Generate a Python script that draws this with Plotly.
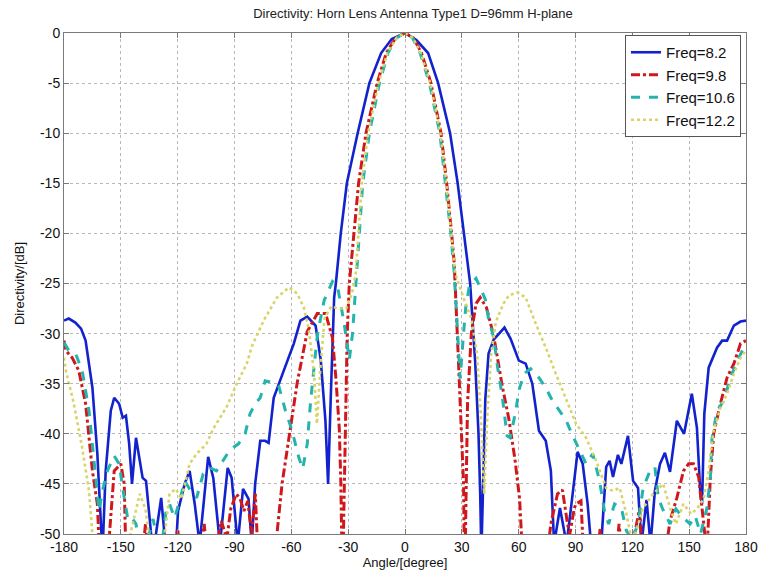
import plotly.graph_objects as go

# Measured H-plane directivity patterns of the horn lens antenna (D=96mm)
freq_labels = ["Freq=8.2", "Freq=9.8", "Freq=10.6", "Freq=12.2"]

angle_82 = [-180, -177.5, -174, -171, -168.6, -165, -162.4, -159.7, -158, -155.3, -153.5, -150.9,
            -149, -147.3, -145.6, -144.1, -142, -140.3, -138.5, -136.7, -133, -128.7, -126, -122,
            -119.8, -116.3, -113.7, -111, -108.4, -103.9, -101.2, -97.7, -93.6, -91.5, -88.3, -85.5,
            -82.6, -80.9, -79.1, -76.4, -73.8, -72, -69.3, -64, -58.7, -55.2, -51.6, -47.2, -44.5,
            -42, -40.6, -39.2, -37.4, -36.5, -33.9, -30.7, -25, -18.8, -12.6, -7, 0, 6, 12.2, 17.5,
            23.8, 27.8, 31.2, 33.5, 34.4, 37.1, 38.8, 39.7, 40.3, 42.4, 44.1, 46.8, 49.5, 52.5, 55.7,
            60.1, 63.7, 67.2, 70.7, 74.3, 77, 78.7, 81.8, 85.3, 88.5, 91.1, 93.8, 96.4, 98.2, 100.5,
            103.6, 106.2, 108, 109.8, 112.4, 114.2, 117.7, 120.4, 123, 124.8, 127.5, 129.6, 131.9,
            134.6, 137.2, 139.9, 143.5, 147.3, 151.4, 154.1, 155.9, 156.8, 158, 160.3, 164.7, 167.4,
            170, 173.6, 177.1, 180]
db_82 = [-28.7, -28.5, -28.9, -29.5, -30.7, -35.4, -42, -52, -43.7, -37.7, -36.4, -37, -38.4, -38.2,
         -41, -45, -40.4, -42.4, -44.4, -44.7, -52, -46.4, -52, -55, -47.7, -45, -43.7, -47, -51,
         -42.3, -44.4, -51, -43.4, -44.4, -51, -45.5, -46.5, -51, -45, -40.7, -40.7, -40.9, -36.4,
         -33.7, -31, -28.7, -28.3, -29.2, -32.6, -38.7, -45, -36.4, -26.4, -25, -20, -15, -10, -5,
         -2, -0.6, 0, -0.7, -2, -5, -10, -15, -20, -23.7, -25, -33, -40, -46, -52, -36.5, -32,
         -30.6, -30, -29.4, -30.5, -32.7, -33, -35, -39.7, -40.7, -43.7, -51, -47.4, -51, -46,
         -41.8, -43, -47, -51, -55, -51, -43.3, -42.7, -44.3, -42.1, -43, -40.2, -44.7, -45.4,
         -51, -46.6, -51, -45.7, -43, -41.9, -43.8, -38.7, -40, -36, -39.4, -46, -47, -38, -33.4,
         -31.4, -30.7, -30.7, -29.2, -28.8, -28.7]

angle_98 = [-180, -179, -175.7, -172.2, -168.6, -165, -162.4, -160.5, -156, -153.5, -150, -148.2,
            -147, -140, -137, -134, -125, -120, -117, -110, -106, -103, -97, -94, -92, -89, -87,
            -85, -83, -81, -79, -77, -70, -67.6, -64.9, -61.3, -56.9, -51.6, -46.3, -41.9, -38.3,
            -36.5, -34.7, -33.9, -33, -31.5, -30.5, -29.4, -26.8, -24.5, -20.6, -14.7, -9.9, -5, 0,
            4.5, 8.7, 13.7, 19, 22, 24.6, 26, 28.2, 30, 30.9, 31.5, 33, 35, 37.5, 39.7, 43, 46.8,
            51.3, 54.8, 58, 60.5, 62.8, 70, 75, 77, 80.5, 83.1, 85.8, 87, 89.4, 90.3, 92.9, 95, 100,
            103, 105, 110, 113, 116, 123.9, 126, 135, 139.9, 143.5, 147, 149.7, 152.3, 155, 156.8,
            159.4, 161.2, 162.9, 166.5, 170, 173.6, 177.1, 180]
db_98 = [-30.7, -31.7, -32.4, -33.7, -37, -43.7, -47, -55, -50, -43.7, -43, -45, -55, -55, -49,
         -55, -55, -49.5, -55, -55, -49, -55, -48.7, -50.5, -47.5, -46, -46.5, -47.7, -46.7, -50,
         -46, -55, -60, -50, -45, -40.4, -34.9, -29.8, -28, -28, -30.4, -34.4, -39.4, -44.7, -55,
         -40, -30, -25, -20, -15, -10, -5, -2, -0.5, 0, -0.5, -2, -5, -10, -15, -20, -23, -32.7,
         -40, -45, -55, -37, -30, -27, -26.4, -27.4, -30.2, -35.2, -38.5, -42.5, -46.5, -55, -60,
         -52, -49, -46, -45.6, -49, -50, -47.4, -47, -46.7, -55, -55, -49.5, -55, -55, -49, -55,
         -47.4, -55, -55, -48.7, -46.4, -43.7, -43, -43, -44.3, -47.7, -52, -44.3, -40, -37,
         -34.4, -33, -31, -30.7]

angle_106 = [-180, -177.5, -173.9, -170.4, -166.8, -164.2, -161.5, -159.7, -157.1, -153.5, -150.9,
             -148.2, -146.4, -144.7, -142, -139, -133, -129, -126, -124.3, -121.6, -119, -116.3,
             -113.7, -110, -106.5, -103, -99.5, -95.9, -92.4, -87.9, -84.4, -81.8, -79.1, -76.4,
             -73.8, -69.3, -66.7, -63.1, -59.6, -56, -54, -51.6, -49.8, -46.3, -42.7, -38.3, -35.6,
             -32.1, -29.4, -27.7, -25.9, -24.5, -22.3, -18.8, -13.5, -9, -4.5, 0, 4, 8, 12.9, 18.4,
             21.5, 24.2, 26, 28.2, 29.1, 30.9, 32, 34, 37.5, 39.7, 42.4, 44.1, 46.8, 49, 51.3, 53.9,
             55.5, 58.4, 60.1, 62.8, 66.3, 70.7, 74.3, 77.8, 81.4, 84.9, 88.5, 92, 95.6, 99.1,
             102.7, 105.3, 107.5, 110.6, 114.2, 116.9, 120, 123, 125.7, 129.3, 131.9, 133.7, 136,
             139.9, 143, 147, 150.5, 153.2, 156, 159.4, 161.2, 162.1, 164.7, 168.3, 171.8, 175.4, 180]
db_106 = [-30.9, -31.7, -32, -33.7, -37.7, -42.4, -47.7, -45.7, -43.7, -42.2, -43, -46.4, -48.4,
          -48.2, -49, -53, -48.5, -52, -47.5, -47, -48.4, -46.7, -44.7, -45.5, -46.4, -44, -43.4,
          -43.7, -42.7, -41.6, -41, -40, -38, -37, -36.4, -34.7, -34.9, -35.2, -37.7, -39.7, -42.4,
          -43.5, -41, -36.7, -30.2, -26.7, -24.8, -25.3, -29, -32.6, -30, -25, -20, -15, -10, -5,
          -2, -0.5, 0, -0.5, -2, -5, -10, -15, -20, -24, -32, -34.5, -30, -27.5, -25.2, -24.5,
          -25.4, -26.6, -28.5, -30.4, -33.5, -36.2, -40.2, -40.4, -37.8, -35.7, -34, -33.5, -34.4,
          -35.4, -36.7, -37.7, -38.6, -40.2, -41.5, -43, -42, -44.7, -47.7, -49, -47, -47.4, -49.7,
          -50.5, -49, -45.4, -43.7, -43.3, -46.4, -47.5, -49, -47.5, -48.4, -49, -48.2, -50, -47.4,
          -44.3, -40.4, -37.7, -36.7, -34.4, -32.7, -31]

angle_122 = [-180, -179, -174.8, -170.4, -166.8, -164.2, -158, -150, -145, -140, -137, -134, -128,
             -124.3, -121, -118, -113.7, -110, -104.8, -101.2, -94.1, -88.8, -83.5, -80.9, -74.6,
             -67.6, -61.3, -56.9, -53.4, -50.7, -48, -46.5, -44.5, -42.5, -39, -35, -31, -28, -26,
             -24.5, -22.8, -19.5, -14, -9.3, -4.5, 0, 4.2, 8.3, 13.3, 18.7, 21.8, 24.4, 26.5, 31, 35,
             38, 40, 41.8, 43.5, 45.5, 48, 52, 54.8, 59.2, 63.7, 69, 74.3, 79.6, 84.9, 90.3, 95.6,
             100.9, 106.2, 109.8, 113.3, 116.9, 120, 125.7, 131, 136.3, 139.9, 143, 147, 151, 154,
             157.6, 160.3, 162.9, 166.5, 170, 173.6, 177.1, 180]
db_122 = [-32.4, -33.7, -37, -41.4, -45.7, -52, -58, -58, -50, -46, -47.5, -52, -52, -46, -45.5,
          -46.5, -43, -42, -41, -39.5, -37.3, -35, -33, -31.3, -28.7, -26.4, -25.4, -26, -27.4,
          -29.7, -34, -39, -33, -28.5, -27.3, -27.5, -27.5, -26, -24, -20, -15, -10, -5, -2, -0.5,
          0, -0.5, -2, -5, -10, -15, -20, -24, -26.5, -28.5, -32, -38, -46, -38, -32, -28.8, -27,
          -26.2, -25.9, -26.4, -29, -31.4, -34, -36.4, -39, -40.4, -42.7, -45.4, -45.7, -45.4, -48,
          -51, -47.4, -46, -45, -47.4, -49, -47, -48, -47.5, -46.5, -43.7, -39.7, -37.4, -36, -34,
          -32.4, -31.7]

angle_ticks = list(range(-180, 181, 30))
db_ticks = list(range(0, -51, -5))

series = [
    (angle_82, db_82, freq_labels[0], "#1222cc", "solid", 2.6),
    (angle_98, db_98, freq_labels[1], "#d0181c", "dashdot", 3),
    (angle_106, db_106, freq_labels[2], "#25b3ae", "dash", 3),
    (angle_122, db_122, freq_labels[3], "#d8d46a", "dot", 2.6),
]

fig = go.Figure()
for ang, db, name, color, dash, width in series:
    fig.add_trace(go.Scatter(
        x=ang, y=db, name=name, mode="lines",
        line=dict(color=color, dash=dash, width=width),
    ))

axis_common = dict(
    showgrid=True, gridcolor="#b8b8b8", griddash="dot", gridwidth=1,
    showline=True, linecolor="#7a7a7a", linewidth=1, mirror="ticks",
    ticks="inside", ticklen=5, tickcolor="#7a7a7a",
    zeroline=False,
    tickfont=dict(family="Liberation Sans, Arial, sans-serif", size=14, color="#111111"),
)

fig.update_layout(
    width=769, height=577,
    margin=dict(l=64, r=23, t=33, b=43),
    paper_bgcolor="white", plot_bgcolor="white",
    title=dict(
        text="Directivity: Horn Lens Antenna Type1 D=96mm H-plane",
        font=dict(family="Liberation Sans, Arial, sans-serif", size=13, color="#222222"),
        x=413 / 769, xanchor="center", xref="container",
        y=1 - 13 / 577, yanchor="middle", yref="container",
    ),
    xaxis=dict(
        range=[-180, 180], tickvals=angle_ticks, ticktext=[str(t) for t in angle_ticks],
        title=dict(text="Angle/[degree]", standoff=2,
                   font=dict(family="Liberation Sans, Arial, sans-serif", size=13, color="#111111")),
        **axis_common,
    ),
    yaxis=dict(
        range=[-50, 0], tickvals=db_ticks, ticktext=[str(t) for t in db_ticks],
        title=dict(text="Directivity/[dB]", standoff=12,
                   font=dict(family="Liberation Sans, Arial, sans-serif", size=13, color="#111111")),
        **axis_common,
    ),
    legend=dict(
        x=1 - 5 / 682, xanchor="right", y=0.996, yanchor="top",
        bgcolor="white", bordercolor="#555555", borderwidth=1,
        font=dict(family="Liberation Sans, Arial, sans-serif", size=15, color="#111111"),
        itemwidth=30, tracegroupgap=0,
    ),
    showlegend=True,
)

fig.write_html("out.html")
